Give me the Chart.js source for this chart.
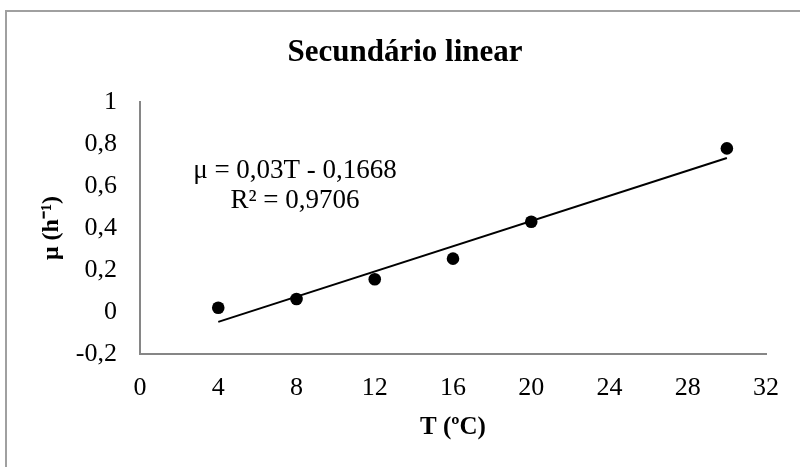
<!DOCTYPE html>
<html>
<head>
<meta charset="utf-8">
<script src="https://cdn.jsdelivr.net/npm/chart.js@4/dist/chart.umd.min.js"></script>
<style>
  html, body { margin: 0; padding: 0; background: #fff; overflow: hidden; }
  #wrap { position: relative; width: 800px; height: 467px; }
  #frame { position: absolute; left: 5px; top: 10px; width: 900px; height: 600px;
           border: 2px solid #a0a0a0; box-sizing: border-box; }
  canvas { position: absolute; left: 0; top: 0; }
</style>
</head>
<body>
<div id="wrap">
  <div id="frame"></div>
  <canvas id="c" width="800" height="467"></canvas>
</div>
<script>
// ---- data ----
const temperatures = [4, 8, 12, 16, 20, 30];
const muValues = [0.020, 0.062, 0.156, 0.254, 0.430, 0.779];
const trendX = [4, 30];
const trendY = [-0.047, 0.733];
const xTickValues = [0, 4, 8, 12, 16, 20, 24, 28, 32];
const xTickLabels = ['0', '4', '8', '12', '16', '20', '24', '28', '32'];
const yTickValues = [-0.2, 0, 0.2, 0.4, 0.6, 0.8, 1];
const yTickLabels = ['-0,2', '0', '0,2', '0,4', '0,6', '0,8', '1'];
const chartTitle = 'Secundário linear';
const xTitle = 'T (ºC)';
const yTitle = 'μ (h⁻¹)';
const equationLines = ['μ = 0,03T - 0,1668', 'R² = 0,9706'];

const SERIF = '"Liberation Serif", "Times New Roman", serif';

const textPlugin = {
  id: 'textPlugin',
  afterDraw(chart) {
    const ctx = chart.ctx;
    ctx.save();
    ctx.fillStyle = '#000';
    ctx.textAlign = 'center';
    ctx.textBaseline = 'middle';
    ctx.font = 'bold 31px ' + SERIF;
    ctx.fillText(chartTitle, 405, 53);
    ctx.font = '27px ' + SERIF;
    ctx.fillText(equationLines[0], 295, 171);
    ctx.fillText(equationLines[1], 295, 201);
    ctx.restore();
  }
};

const pointData = temperatures.map((t, i) => ({ x: t, y: muValues[i] }));
const trendData = trendX.map((t, i) => ({ x: t, y: trendY[i] }));

new Chart(document.getElementById('c'), {
  type: 'scatter',
  data: {
    datasets: [
      {
        label: 'trend',
        type: 'line',
        data: trendData,
        borderColor: '#000',
        borderWidth: 2,
        pointRadius: 0,
        fill: false,
        tension: 0
      },
      {
        label: 'μ',
        data: pointData,
        backgroundColor: '#000',
        borderColor: '#000',
        pointRadius: 6.3,
        pointHoverRadius: 6.3,
        borderWidth: 0
      }
    ]
  },
  options: {
    responsive: false,
    animation: false,
    devicePixelRatio: 1,
    clip: false,
    layout: { padding: { left: 0, right: 34, top: 102, bottom: 0 } },
    plugins: { legend: { display: false }, tooltip: { enabled: false }, title: { display: false } },
    scales: {
      x: {
        type: 'linear',
        min: 0, max: 32,
        afterFit(scale) { scale.height = 113; },
        afterBuildTicks(scale) { scale.ticks = xTickValues.map(v => ({ value: v })); },
        grid: { display: false },
        border: { display: true, color: '#868686', width: 2 },
        ticks: {
          color: '#000',
          font: { family: SERIF, size: 26 },
          padding: 11,
          maxRotation: 0,
          autoSkip: false,
          callback: (v, i) => xTickLabels[i]
        },
        title: {
          display: true, text: xTitle, color: '#000',
          font: { family: SERIF, size: 25, weight: 'bold' },
          padding: { top: 0, bottom: 24 }
        }
      },
      y: {
        type: 'linear',
        min: -0.2, max: 1,
        afterFit(scale) { scale.width = 140; },
        afterBuildTicks(scale) { scale.ticks = yTickValues.map(v => ({ value: v })); },
        grid: { display: false },
        border: { display: true, color: '#868686', width: 2 },
        ticks: {
          color: '#000',
          font: { family: SERIF, size: 26 },
          padding: 15,
          autoSkip: false,
          callback: (v, i) => yTickLabels[i]
        },
        title: {
          display: true, text: yTitle, color: '#000',
          font: { family: SERIF, size: 24, weight: 'bold' },
          padding: { top: 37, bottom: 0 }
        }
      }
    }
  },
  plugins: [textPlugin]
});
</script>
</body>
</html>
